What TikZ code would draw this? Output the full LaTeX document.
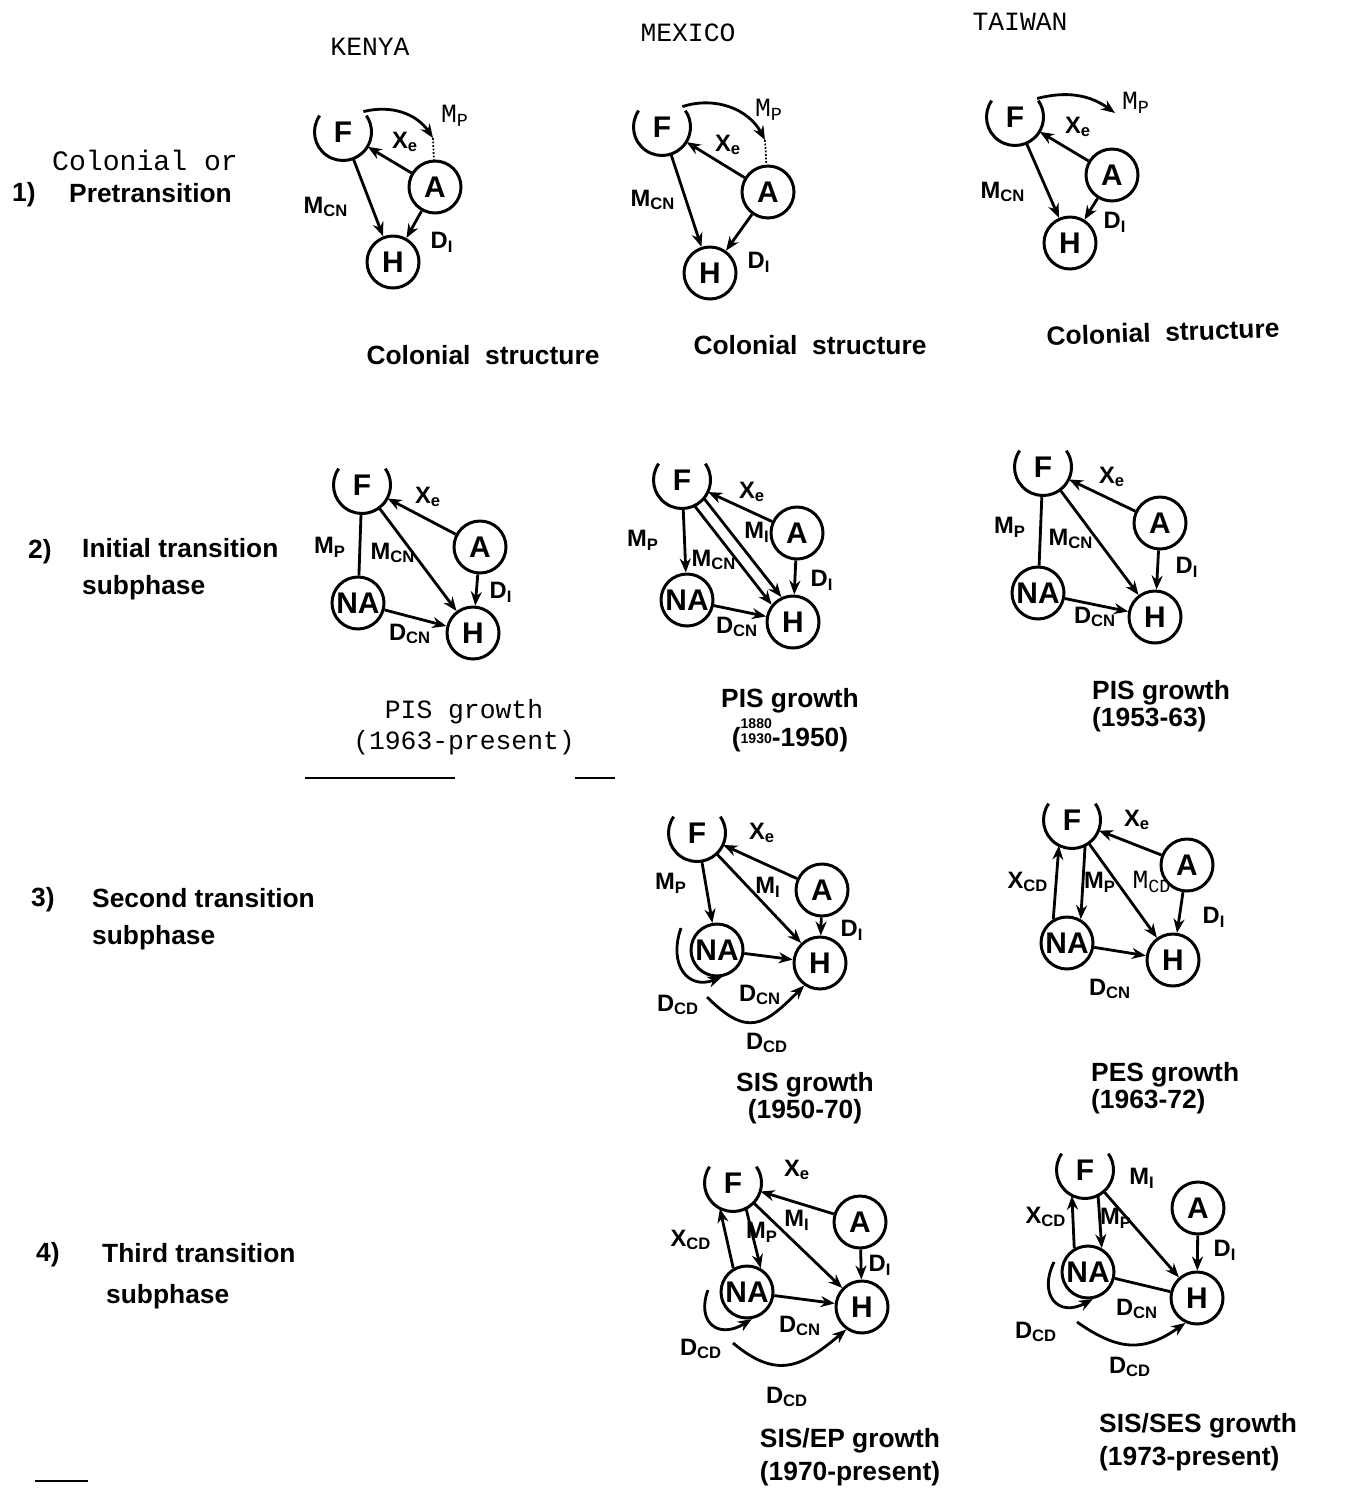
\documentclass[tikz,border=0pt]{standalone}
\usepackage{fontspec}
\setmainfont{Liberation Sans}
\setsansfont{Liberation Sans}
\setmonofont{Liberation Mono}
\usetikzlibrary{arrows.meta}
\tikzset{
  st/.style={circle,draw,line width=1.7pt,minimum size=1.04cm,inner sep=0pt,
             font=\sffamily\bfseries\fontsize{17}{17}\selectfont},
  fst/.style={circle,minimum size=1.14cm,inner sep=0pt,
             font=\sffamily\bfseries\fontsize{17}{17}\selectfont},
  fl/.style={-{Stealth[length=2.8mm,width=2.2mm]},line width=1.6pt},
  ln/.style={line width=1.6pt},
  lbl/.style={font=\sffamily\bfseries\fontsize{13.5}{13.5}\selectfont,inner sep=1pt},
  tlbl/.style={font=\ttfamily\fontsize{15}{15}\selectfont,inner sep=1pt},
  capt/.style={font=\sffamily\bfseries\fontsize{15}{14}\selectfont,align=center},
  tcapt/.style={font=\ttfamily\fontsize{15}{18}\selectfont,align=center},
  row/.style={font=\sffamily\bfseries\fontsize{15}{17}\selectfont,anchor=west},
  trow/.style={font=\ttfamily\fontsize{16}{17}\selectfont,anchor=west},
  hd/.style={font=\ttfamily\fontsize{15}{17}\selectfont}
}
% open circle round F
\newcommand{\farc}[1]{\draw[line width=1.7pt] ([shift={(145:0.57cm)}]#1.center)
  arc[start angle=145,end angle=395,radius=0.57cm];}

\begin{document}
\begin{tikzpicture}[x=0.2mm,y=0.2mm]
  \useasboundingbox (0,0) rectangle (1347,-1494);
  % headings
  \node[hd] (kenya) at (370,-47) {KENYA};
  \node[hd] (mexico) at (688,-33) {MEXICO};
  \node[hd] (taiwan) at (1020,-22) {TAIWAN};
  % row labels
  \node[trow] (r1a) at (46,-160) {Colonial or};
  \node[row] (r1n) at (6,-195) {1)};
  \node[row] (r1b) at (63,-193) {Pretransition};
  \node[row] (r2n) at (22,-552) {2)};
  \node[row] (r2a) at (76,-548) {Initial transition};
  \node[row] (r2b) at (76,-588) {subphase};
  \node[row] (r3n) at (25,-900) {3)};
  \node[row] (r3a) at (86,-898) {Second transition};
  \node[row] (r3b) at (86,-938) {subphase};
  \node[row] (r4n) at (30,-1255) {4)};
  \node[row] (r4a) at (96,-1253) {Third transition};
  \node[row] (r4b) at (100,-1297) {subphase};

  % 1) Kenya
  \node[fst] (F1k) at (343,-132) {F}; \farc{F1k}
  \node[st] (A1k) at (435,-187) {A};
  \node[st] (H1k) at (393,-262) {H};
  \coordinate (t1k) at (433,-138);
  \draw[fl] (A1k) -- (F1k);
  \draw[fl] (F1k) -- (H1k);
  \draw[fl] (A1k) -- (H1k);
  \draw[fl] (F1k.45) to[bend left=35] (t1k);
  \draw[line width=1pt,densely dotted] (t1k) -- (A1k);
  \node[tlbl] (mp1k) at (455,-116) {M\textsubscript{P}};
  \node[lbl] (x1k) at (405,-142) {X\textsubscript{e}};
  \node[lbl] (mc1k) at (326,-207) {M\textsubscript{CN}};
  \node[lbl] (d1k) at (442,-242) {D\textsubscript{I}};
  \node[capt] (c1k) at (483,-355) {Colonial\ \ structure};

  % 1) Mexico
  \node[fst] (F1m) at (662,-127) {F}; \farc{F1m}
  \node[st] (A1m) at (768,-192) {A};
  \node[st] (H1m) at (710,-273) {H};
  \coordinate (t1m) at (765,-140);
  \draw[fl] (A1m) -- (F1m);
  \draw[fl] (F1m) -- (H1m);
  \draw[fl] (A1m) -- (H1m);
  \draw[fl] (F1m.45) to[bend left=40] (t1m);
  \draw[line width=1pt,densely dotted] (t1m) -- (A1m);
  \node[tlbl] (mp1m) at (769,-110) {M\textsubscript{P}};
  \node[lbl] (x1m) at (728,-145) {X\textsubscript{e}};
  \node[lbl] (mc1m) at (653,-200) {M\textsubscript{CN}};
  \node[lbl] (d1m) at (759,-262) {D\textsubscript{I}};
  \node[capt] (c1m) at (810,-345) {Colonial\ \ structure};

  % 1) Taiwan
  \node[fst] (F1t) at (1015,-117) {F}; \farc{F1t}
  \node[st] (A1t) at (1112,-175) {A};
  \node[st] (H1t) at (1070,-243) {H};
  \coordinate (t1t) at (1115,-113);
  \draw[fl] (A1t) -- (F1t);
  \draw[fl] (F1t) -- (H1t);
  \draw[fl] (A1t) -- (H1t);
  \draw[fl] (F1t.40) to[bend left=25] (t1t);
  \node[tlbl] (mp1t) at (1136,-103) {M\textsubscript{P}};
  \node[lbl] (x1t) at (1078,-127) {X\textsubscript{e}};
  \node[lbl] (mc1t) at (1003,-192) {M\textsubscript{CN}};
  \node[lbl] (d1t) at (1115,-222) {D\textsubscript{I}};
  \node[capt,rotate=2] (c1t) at (1163,-332) {Colonial\ \ structure};

  % 2) Kenya
  \node[fst] (F2k) at (362,-485) {F}; \farc{F2k}
  \node[st] (A2k) at (480,-547) {A};
  \node[st] (NA2k) at (358,-603) {NA};
  \node[st] (H2k) at (473,-633) {H};
  \draw[fl] (A2k) -- (F2k);
  \draw[ln] (F2k) -- (NA2k);
  \draw[fl] (F2k) -- (H2k);
  \draw[fl] (A2k) -- (H2k);
  \draw[fl] (NA2k) -- (H2k);
  \node[lbl] (x2k) at (428,-497) {X\textsubscript{e}};
  \node[lbl] (mp2k) at (330,-547) {M\textsubscript{P}};
  \node[lbl] (mc2k) at (393,-553) {M\textsubscript{CN}};
  \node[lbl] (d2k) at (501,-592) {D\textsubscript{I}};
  \node[lbl] (dc2k) at (410,-634) {D\textsubscript{CN}};
  \node[tcapt] (c2k) at (464,-727) {PIS growth\\(1963-present)};
  \draw[line width=1pt] (305,-778) -- (455,-778);
  \draw[line width=1pt] (575,-778) -- (615,-778);

  % 2) Mexico
  \node[fst] (F2m) at (682,-480) {F}; \farc{F2m}
  \node[st] (A2m) at (797,-533) {A};
  \node[st] (NA2m) at (687,-600) {NA};
  \node[st] (H2m) at (793,-622) {H};
  \draw[fl] (A2m) -- (F2m);
  \draw[fl] (F2m) -- (NA2m);
  \draw[fl] (F2m.-40) -- (H2m.115);
  \draw[fl] (F2m.-64) -- (H2m.141);
  \draw[fl] (A2m) -- (H2m);
  \draw[fl] (NA2m) -- (H2m);
  \node[lbl] (x2m) at (752,-492) {X\textsubscript{e}};
  \node[lbl] (mp2m) at (643,-540) {M\textsubscript{P}};
  \node[lbl] (mc2m) at (714,-560) {M\textsubscript{CN}};
  \node[lbl] (mi2m) at (757,-532) {M\textsubscript{I}};
  \node[lbl] (d2m) at (822,-580) {D\textsubscript{I}};
  \node[lbl] (dc2m) at (737,-627) {D\textsubscript{CN}};
  \node[capt] (c2m) at (790,-720) {PIS growth\\[2pt](\raisebox{0.2ex}{\fontsize{8}{8}\selectfont\shortstack{1880\\1930}}-1950)};

  % 2) Taiwan
  \node[fst] (F2t) at (1043,-467) {F}; \farc{F2t}
  \node[st] (A2t) at (1160,-523) {A};
  \node[st] (NA2t) at (1038,-593) {NA};
  \node[st] (H2t) at (1155,-617) {H};
  \draw[fl] (A2t) -- (F2t);
  \draw[ln] (F2t) -- (NA2t);
  \draw[fl] (F2t) -- (H2t);
  \draw[fl] (A2t) -- (H2t);
  \draw[fl] (NA2t) -- (H2t);
  \node[lbl] (x2t) at (1112,-477) {X\textsubscript{e}};
  \node[lbl] (mp2t) at (1010,-527) {M\textsubscript{P}};
  \node[lbl] (mc2t) at (1071,-539) {M\textsubscript{CN}};
  \node[lbl] (d2t) at (1187,-567) {D\textsubscript{I}};
  \node[lbl] (dc2t) at (1095,-617) {D\textsubscript{CN}};
  \node[capt,align=left,anchor=west] (c2t) at (1086,-706) {PIS growth\\(1953-63)};

  % 3) Mexico
  \node[fst] (F3m) at (697,-833) {F}; \farc{F3m}
  \node[st] (A3m) at (822,-890) {A};
  \node[st] (NA3m) at (717,-950) {NA};
  \node[st] (H3m) at (820,-963) {H};
  \coordinate (l3m) at (681,-928);
  \coordinate (b3m) at (707,-997);
  \draw[fl] (A3m) -- (F3m);
  \draw[fl] (F3m) -- (NA3m);
  \draw[fl] (F3m) -- (H3m);
  \draw[fl] (A3m) -- (H3m);
  \draw[fl] (NA3m) -- (H3m);
  \draw[fl] (l3m) .. controls (668,-965) and (688,-990) .. (NA3m.280);
  \draw[fl] (b3m) to[out=-45,in=-135,looseness=1.5] (H3m.235);
  \node[lbl] (x3m) at (762,-833) {X\textsubscript{e}};
  \node[lbl] (mp3m) at (671,-883) {M\textsubscript{P}};
  \node[lbl] (mi3m) at (768,-887) {M\textsubscript{I}};
  \node[lbl] (d3m) at (852,-930) {D\textsubscript{I}};
  \node[lbl] (dc3m) at (760,-995) {D\textsubscript{CN}};
  \node[lbl] (dd3m) at (678,-1005) {D\textsubscript{CD}};
  \node[lbl] (db3m) at (767,-1043) {D\textsubscript{CD}};
  \node[capt] (c3m) at (805,-1098) {SIS growth\\(1950-70)};

  % 3) Taiwan
  \node[fst] (F3t) at (1072,-820) {F}; \farc{F3t}
  \node[st] (A3t) at (1187,-865) {A};
  \node[st] (NA3t) at (1067,-943) {NA};
  \node[st] (H3t) at (1173,-960) {H};
  \draw[fl] (A3t) -- (F3t);
  \draw[fl] (NA3t.120) -- (F3t.243);
  \draw[fl] (F3t.297) -- (NA3t.60);
  \draw[fl] (F3t) -- (H3t);
  \draw[fl] (A3t) -- (H3t);
  \draw[fl] (NA3t) -- (H3t);
  \node[lbl] (x3t) at (1137,-820) {X\textsubscript{e}};
  \node[lbl] (xc3t) at (1028,-882) {X\textsubscript{CD}};
  \node[lbl] (mp3t) at (1100,-882) {M\textsubscript{P}};
  \node[tlbl] (mcd3t) at (1152,-882) {M\textsubscript{CD}};
  \node[lbl] (d3t) at (1214,-917) {D\textsubscript{I}};
  \node[lbl] (dc3t) at (1110,-989) {D\textsubscript{CN}};
  \node[capt,align=left,anchor=west] (c3t) at (1085,-1088) {PES growth\\(1963-72)};

  % 4) Mexico
  \node[fst] (F4m) at (733,-1183) {F}; \farc{F4m}
  \node[st] (A4m) at (860,-1222) {A};
  \node[st] (NA4m) at (747,-1292) {NA};
  \node[st] (H4m) at (862,-1307) {H};
  \coordinate (l4m) at (708,-1290);
  \coordinate (b4m) at (733,-1343);
  \draw[fl] (A4m) -- (F4m);
  \draw[fl] (NA4m.120) -- (F4m.243);
  \draw[fl] (F4m.297) -- (NA4m.60);
  \draw[fl] (F4m) -- (H4m);
  \draw[fl] (A4m) -- (H4m);
  \draw[fl] (NA4m) -- (H4m);
  \draw[fl] (l4m) .. controls (696,-1322) and (718,-1340) .. (NA4m.280);
  \draw[fl] (b4m) to[out=-40,in=-140,looseness=1.3] (H4m.235);
  \node[lbl] (x4m) at (797,-1170) {X\textsubscript{e}};
  \node[lbl] (xc4m) at (691,-1240) {X\textsubscript{CD}};
  \node[lbl] (mp4m) at (762,-1232) {M\textsubscript{P}};
  \node[lbl] (mi4m) at (797,-1220) {M\textsubscript{I}};
  \node[lbl] (d4m) at (880,-1265) {D\textsubscript{I}};
  \node[lbl] (dc4m) at (800,-1326) {D\textsubscript{CN}};
  \node[lbl] (dd4m) at (701,-1349) {D\textsubscript{CD}};
  \node[lbl] (db4m) at (787,-1397) {D\textsubscript{CD}};
  \node[capt] (c4m) at (850,-1457) {SIS/EP growth\\[4pt](1970-present)};

  % 4) Taiwan
  \node[fst] (F4t) at (1085,-1170) {F}; \farc{F4t}
  \node[st] (A4t) at (1198,-1208) {A};
  \node[st] (NA4t) at (1088,-1272) {NA};
  \node[st] (H4t) at (1197,-1298) {H};
  \coordinate (l4t) at (1054,-1262);
  \coordinate (b4t) at (1077,-1322);
  \draw[fl] (F4t) -- (H4t);
  \draw[fl] (NA4t.120) -- (F4t.243);
  \draw[fl] (F4t.297) -- (NA4t.60);
  \draw[fl] (A4t) -- (H4t);
  \draw[ln] (NA4t) -- (H4t);
  \draw[fl] (l4t) .. controls (1038,-1295) and (1058,-1318) .. (NA4t.280);
  \draw[fl] (b4t) to[out=-35,in=-145,looseness=1.2] (H4t.245);
  \node[lbl] (mi4t) at (1142,-1178) {M\textsubscript{I}};
  \node[lbl] (xc4t) at (1046,-1217) {X\textsubscript{CD}};
  \node[lbl] (mp4t) at (1116,-1218) {M\textsubscript{P}};
  \node[lbl] (d4t) at (1225,-1250) {D\textsubscript{I}};
  \node[lbl] (dc4t) at (1137,-1309) {D\textsubscript{CN}};
  \node[lbl] (dd4t) at (1036,-1332) {D\textsubscript{CD}};
  \node[lbl] (db4t) at (1130,-1367) {D\textsubscript{CD}};
  \node[capt,align=left,anchor=west] (c4t) at (1093,-1442) {SIS/SES growth\\[4pt](1973-present)};

  \draw[line width=1pt] (35,-1481) -- (88,-1481);
\end{tikzpicture}
\end{document}
